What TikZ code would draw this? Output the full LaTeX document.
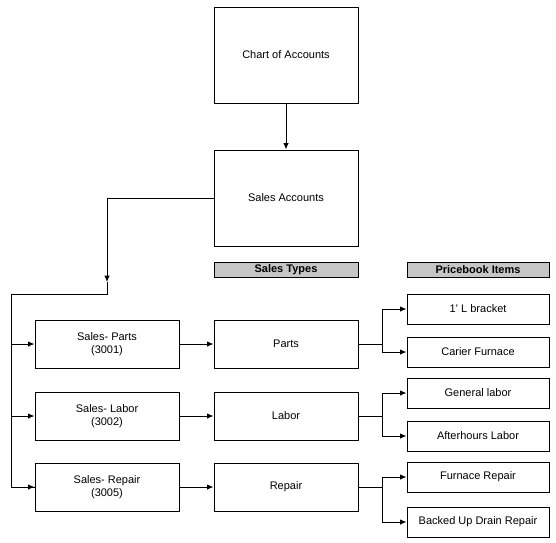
\documentclass[tikz,border=0pt]{standalone}
\usepackage{fontspec}
\setmainfont{Liberation Sans}
\usetikzlibrary{arrows.meta}
\begin{document}
\begin{tikzpicture}[x=1pt,y=-1pt,
  box/.style={draw=black,line width=1pt,fill=white,inner sep=0pt,align=center,font=\fontsize{11}{13}\selectfont},
  head/.style={draw=black,line width=1pt,fill=gray!45,inner sep=0pt,font=\fontsize{11}{13}\selectfont\bfseries},
  conn/.style={line width=1pt,draw=black},
  arr/.style={conn,-{Latex[length=6.5pt,width=5.5pt]}}]
\useasboundingbox[fill=white] (0,0) rectangle (556,542);
% top boxes
\node[box,minimum width=144pt,minimum height=96pt] (coa) at (286,55) {Chart of Accounts};
\node[box,minimum width=144pt,minimum height=96pt] (sa) at (286,198) {Sales Accounts};
% headers
\node[head,minimum width=144pt,minimum height=15pt] (st) at (286,270) {Sales Types};
\node[head,minimum width=142pt,minimum height=15pt] (pb) at (478,270) {Pricebook Items};
% sales accounts
\node[box,minimum width=144pt,minimum height=48pt] (sp) at (107,344) {Sales- Parts\\(3001)};
\node[box,minimum width=144pt,minimum height=48pt] (sl) at (107,416) {Sales- Labor\\(3002)};
\node[box,minimum width=144pt,minimum height=48pt] (sr) at (107,487) {Sales- Repair\\(3005)};
% sales types
\node[box,minimum width=144pt,minimum height=48pt] (tp) at (286,344) {Parts};
\node[box,minimum width=144pt,minimum height=48pt] (tl) at (286,416) {Labor};
\node[box,minimum width=144pt,minimum height=48pt] (tr) at (286,487) {Repair};
% pricebook items
\node[box,minimum width=142pt,minimum height=30pt] (p1) at (478,309) {1' L bracket};
\node[box,minimum width=142pt,minimum height=30pt] (p2) at (478,352) {Carier Furnace};
\node[box,minimum width=142pt,minimum height=30pt] (p3) at (478,393) {General labor};
\node[box,minimum width=142pt,minimum height=30pt] (p4) at (478,436) {Afterhours Labor};
\node[box,minimum width=142pt,minimum height=30pt] (p5) at (478,477) {Furnace Repair};
\node[box,minimum width=142pt,minimum height=30pt] (p6) at (478,522) {Backed Up Drain Repair};
% coordinates
\coordinate (j1) at (107,282);
\coordinate (j2) at (107,294);
\coordinate (j3) at (11,294);
\coordinate (bp) at (382,344);
\coordinate (bl) at (382,416);
\coordinate (br) at (382,487);
% connectors
\draw[arr] (coa.south) -- (sa.north);
\draw[arr] (sa.west) -| (j1);
\draw[conn] (j1) -- (j2) -- (j3) |- (sr.west);
\draw[arr] (j3) |- (sp.west);
\draw[arr] (j3) |- (sl.west);
\draw[arr] (j3) |- (sr.west);
\draw[arr] (sp.east) -- (tp.west);
\draw[arr] (sl.east) -- (tl.west);
\draw[arr] (sr.east) -- (tr.west);
\draw[conn] (tp.east) -- (bp);
\draw[conn] (tl.east) -- (bl);
\draw[conn] (tr.east) -- (br);
\draw[arr] (bp) |- (p1.west);
\draw[arr] (bp) |- (p2.west);
\draw[arr] (bl) |- (p3.west);
\draw[arr] (bl) |- (p4.west);
\draw[arr] (br) |- (p5.west);
\draw[arr] (br) |- (p6.west);
\end{tikzpicture}
\end{document}
